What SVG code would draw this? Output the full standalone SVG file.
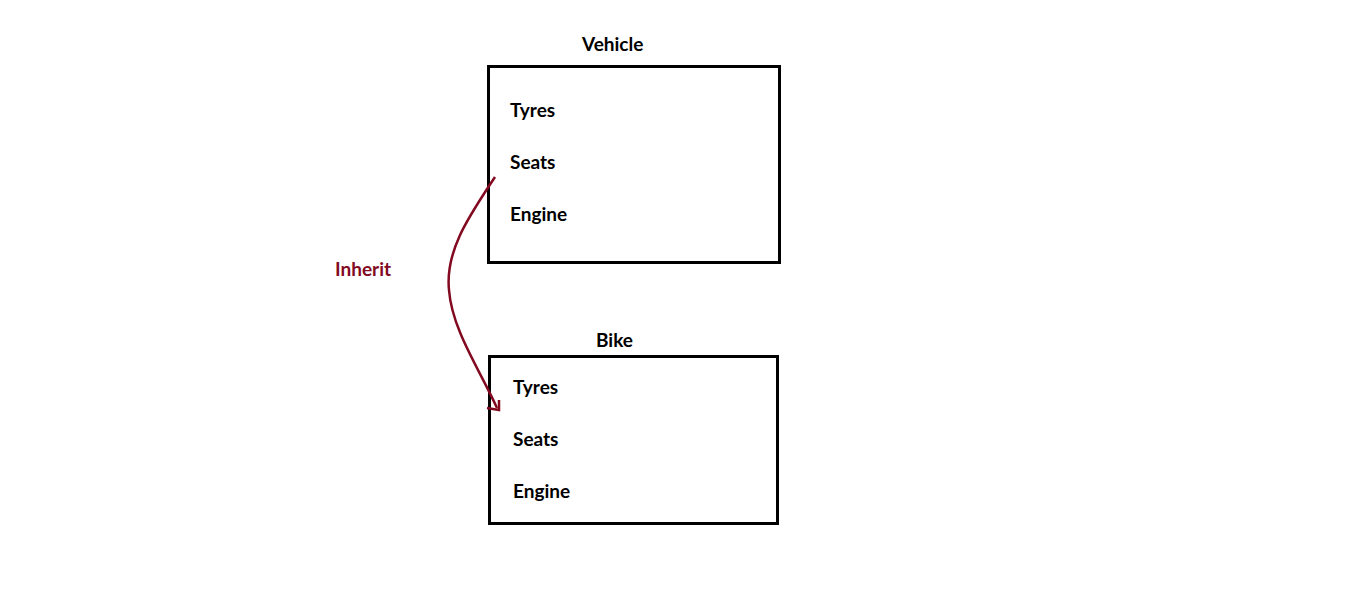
<svg xmlns="http://www.w3.org/2000/svg" width="1360" height="594" viewBox="0 0 1360 594">
<style>
.box{fill:#fff;stroke:#000;stroke-width:3}
.t{font-family:Lato,"Liberation Sans",sans-serif;font-weight:bold;font-size:19px;fill:#000}
.lbl{font-family:Lato,"Liberation Sans",sans-serif;font-weight:bold;font-size:19px;fill:#82091f}
.conn{fill:none;stroke:#82091f;stroke-width:2.5}
</style>
<rect width="1360" height="594" fill="#fff"/>
<g id="vehicle">
<text class="t" x="582" y="51">Vehicle</text>
<rect class="box" x="488.5" y="66.5" width="291" height="196"/>
<text class="t" x="510" y="117">Tyres</text>
<text class="t" x="510" y="169">Seats</text>
<text class="t" x="510" y="221">Engine</text>
</g>
<g id="bike">
<text class="t" x="596" y="347">Bike</text>
<rect class="box" x="489.5" y="356.5" width="288" height="167"/>
<text class="t" x="513" y="394">Tyres</text>
<text class="t" x="513" y="446">Seats</text>
<text class="t" x="513" y="498">Engine</text>
</g>
<g id="connectors">
<path class="conn" d="M495,177 C470,215 445,250 449,290 C452,330 480,370 497,408"/>
<polyline class="conn" points="487,408 499,410 499,400"/>
<text class="lbl" x="335" y="276">Inherit</text>
</g>
</svg>
